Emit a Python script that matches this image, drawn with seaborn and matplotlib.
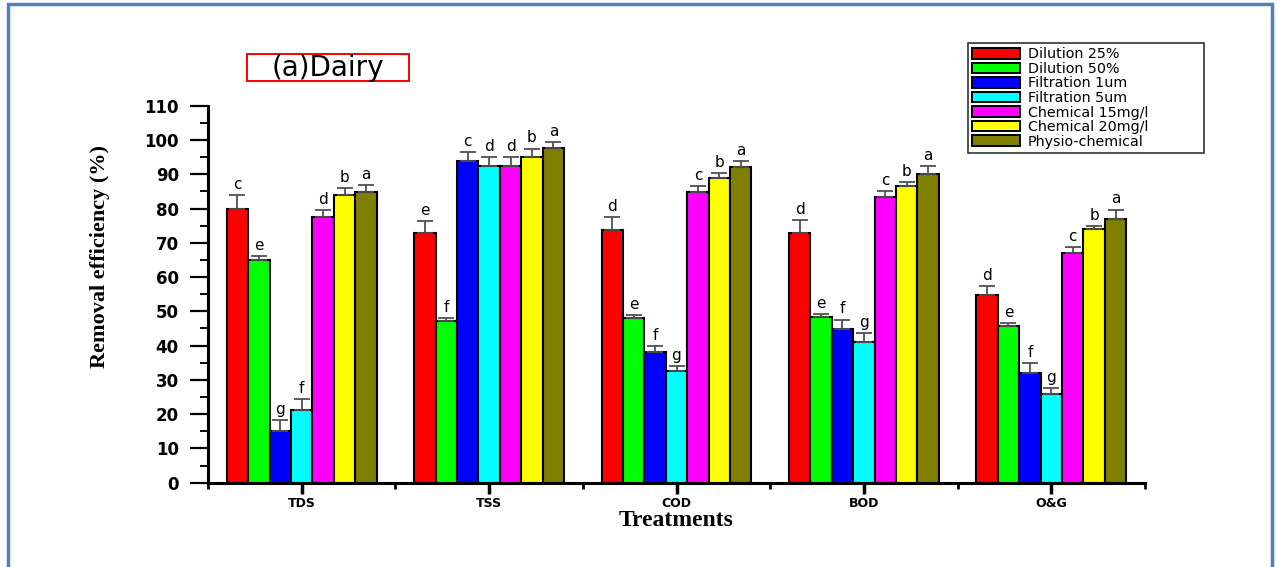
import matplotlib
matplotlib.use("Agg")
import matplotlib.pyplot as plt
from matplotlib.patches import Rectangle
from matplotlib.ticker import MultipleLocator, FixedLocator
import numpy as np
import pandas as pd
import seaborn as sns

parameters = ["TDS", "TSS", "COD", "BOD", "O&G"]
treatments = ["Dilution 25%", "Dilution 50%", "Filtration 1um", "Filtration 5um",
              "Chemical 15mg/l", "Chemical 20mg/l", "Physio-chemical"]
colors = ["#ff0000", "#00ff00", "#0000ff", "#00ffff", "#ff00ff", "#ffff00", "#808000"]

# removal efficiency (%) per parameter, one value per treatment
tds = [80.0, 65.0, 15.0, 21.3, 77.6, 84.0, 84.9]
tss = [72.8, 47.2, 94.0, 92.4, 92.4, 95.0, 97.6]
cod = [73.8, 48.0, 38.2, 32.6, 84.8, 88.9, 92.0]
bod = [73.0, 48.4, 44.9, 41.0, 83.5, 86.5, 90.2]
oag = [54.7, 45.6, 31.9, 25.8, 67.1, 73.9, 76.9]

# standard errors
tds_err = [3.9, 1.0, 3.2, 3.0, 2.0, 1.9, 1.9]
tss_err = [3.6, 0.9, 2.6, 2.6, 2.6, 2.5, 1.7]
cod_err = [3.6, 0.9, 1.7, 1.5, 1.8, 1.4, 1.9]
bod_err = [3.7, 0.8, 2.7, 2.8, 1.5, 1.1, 2.2]
oag_err = [2.7, 0.9, 3.1, 1.8, 1.7, 1.1, 2.8]

# significance letters
tds_sig = ["c", "e", "g", "f", "d", "b", "a"]
tss_sig = ["e", "f", "c", "d", "d", "b", "a"]
cod_sig = ["d", "e", "f", "g", "c", "b", "a"]
bod_sig = ["d", "e", "f", "g", "c", "b", "a"]
oag_sig = ["d", "e", "f", "g", "c", "b", "a"]

values = [tds, tss, cod, bod, oag]
errors = [tds_err, tss_err, cod_err, bod_err, oag_err]
letters = [tds_sig, tss_sig, cod_sig, bod_sig, oag_sig]

rows = []
for p, vals, errs, sigs in zip(parameters, values, errors, letters):
    for t, v, e, s in zip(treatments, vals, errs, sigs):
        rows.append({"Parameter": p, "Treatment": t, "Value": v, "Err": e, "Sig": s})
df = pd.DataFrame(rows)

sns.set_style("white")
plt.rcParams["font.family"] = ["DejaVu Sans"]
plt.rcParams["text.color"] = "black"
plt.rcParams["axes.labelcolor"] = "black"
plt.rcParams["xtick.color"] = "black"
plt.rcParams["ytick.color"] = "black"

W, H = 1276, 567
fig = plt.figure(figsize=(W / 100, H / 100), dpi=100)
ax = fig.add_axes([208 / W, 1 - 482.7 / H, (1145 - 208) / W, (482.7 - 105.7) / H])

sns.barplot(data=df, x="Parameter", y="Value", hue="Treatment",
            order=parameters, hue_order=treatments, palette=colors,
            errorbar=None, width=0.8, edgecolor="black", linewidth=1.5,
            saturation=1, ax=ax, legend=False)

# upward error bars and significance letters on each bar
for i, t in enumerate(treatments):
    cont = ax.containers[i]
    sub = df[df["Treatment"] == t].set_index("Parameter").loc[parameters]
    xs = [b.get_x() + b.get_width() / 2 for b in cont]
    ax.errorbar(xs, sub["Value"], yerr=[np.zeros(len(xs)), sub["Err"]],
                fmt="none", ecolor="#505050", elinewidth=1.3, capsize=6,
                capthick=1.3, zorder=3)
    for x, v, e, s in zip(xs, sub["Value"], sub["Err"], sub["Sig"]):
        ax.text(x, v + e + 0.9, s, ha="center", va="bottom", fontsize=11,
                color="black")

ax.set_xlim(-0.5, 4.5)
ax.set_ylim(0, 110)
ax.yaxis.set_major_locator(MultipleLocator(10))
ax.yaxis.set_minor_locator(MultipleLocator(5))
ax.xaxis.set_minor_locator(FixedLocator([-0.5, 0.5, 1.5, 2.5, 3.5, 4.5]))

for side in ["top", "right"]:
    ax.spines[side].set_visible(False)
for side in ["left", "bottom"]:
    ax.spines[side].set_linewidth(2.2)
    ax.spines[side].set_color("black")

ax.tick_params(axis="y", which="major", direction="out", length=13, width=1.6,
               left=True, labelsize=12, pad=8)
ax.tick_params(axis="y", which="minor", direction="out", length=6, width=1.4, left=True)
ax.tick_params(axis="x", which="major", direction="out", length=8, width=2.5,
               bottom=True, labelsize=9, pad=2)
ax.tick_params(axis="x", which="minor", direction="out", length=4, width=2, bottom=True)
for lbl in ax.get_yticklabels() + ax.get_xticklabels():
    lbl.set_fontweight("bold")

ax.set_xlabel("")
ax.set_ylabel("")
serif = ["Liberation Serif", "DejaVu Serif"]
fig.text(676.5 / W, 1 - 520 / H, "Treatments", fontsize=17, fontweight="bold",
         family=serif, ha="center", va="center")
fig.text(100 / W, 1 - 257 / H, "Removal efficiency (%)", fontsize=16,
         fontweight="bold", family=serif, rotation=90, ha="center", va="center")

handles = [Rectangle((0, 0), 1, 1, facecolor=c, edgecolor="black", linewidth=1.4)
           for c in colors]
leg = fig.legend(handles, treatments, loc="upper left",
                 bbox_to_anchor=(968 / W, 1 - 43 / H, 236 / W, 0.0),
                 mode="expand", fontsize=10.3,
                 frameon=True, fancybox=False, edgecolor="black",
                 handlelength=3.3, handleheight=0.75, labelspacing=0.04,
                 borderpad=0.3, handletextpad=0.6, borderaxespad=0)
leg.get_frame().set_linewidth(1.2)

# title in a red box
fig.patches.append(Rectangle((246.7 / W, 1 - 80.7 / H), 162.3 / W, 26.4 / H,
                             transform=fig.transFigure, facecolor="white",
                             edgecolor="red", linewidth=1.4))
fig.text(328 / W, 1 - 67.5 / H, "(a)Dairy", fontsize=20, ha="center", va="center")

# outer frame
fig.patches.append(Rectangle((8 / W, -0.05), 1264 / W, 1.05 - 4 / H,
                             transform=fig.transFigure, fill=False,
                             edgecolor="#4f81bd", linewidth=2.5))

fig.savefig("out.png", dpi=100)
